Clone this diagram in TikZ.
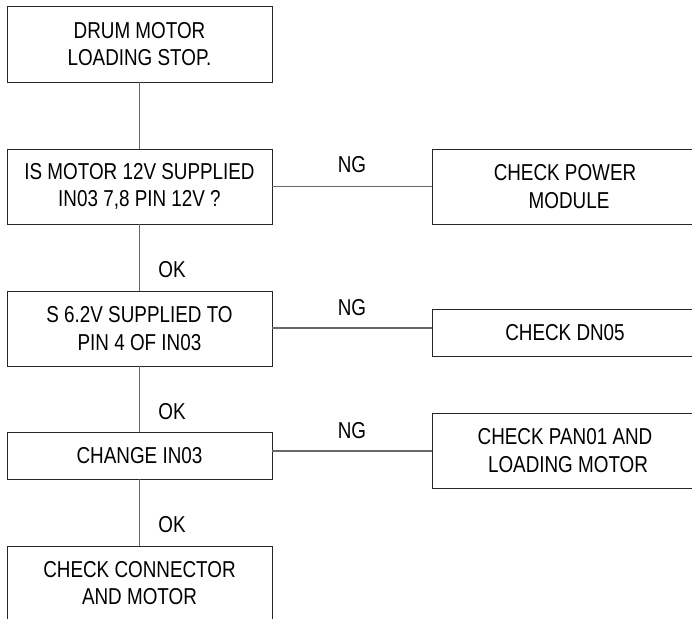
\documentclass[tikz,border=0pt]{standalone}
\usepackage{fontspec}
\setmainfont{Liberation Sans}[FakeStretch=0.82]
\begin{document}
\begin{tikzpicture}[x=1pt,y=-1pt,
  box/.style={draw=black!85,line width=0.9pt,minimum width=265pt,inner sep=0pt,align=center,
    font=\fontsize{23}{27.5}\selectfont},
  lbl/.style={inner sep=0pt,font=\fontsize{23}{27}\selectfont},
  conn/.style={draw={rgb,255:red,105;green,105;blue,105},line width=1.3pt}]
\useasboundingbox (0,0) rectangle (692,618);
\node[box,minimum height=76pt] (b1) at (139.5,44) {DRUM MOTOR\\LOADING STOP.};
\node[box,minimum height=75pt] (b2) at (139.5,186.5) {IS MOTOR 12V SUPPLIED\\IN03 7,8 PIN 12V ?};
\node[box,minimum height=75pt] (b3) at (139.5,328.5) {S 6.2V SUPPLIED TO\\PIN 4 OF IN03};
\node[box,minimum height=47pt] (b4) at (139.5,455.5) {CHANGE IN03};
\node[box,minimum height=74pt] (b5) at (139.5,583) {CHECK CONNECTOR\\AND MOTOR};
\node[box,minimum height=75pt] (r1) at (565,186.5) {CHECK POWER\\\hspace{8pt}MODULE};
\node[box,minimum height=47pt] (r2) at (565,332.5) {CHECK DN05};
\node[box,minimum height=75pt] (r3) at (565,450.5) {CHECK PAN01 AND\\\hspace{6pt}LOADING MOTOR};
\draw[conn] (b1.south) -- (b2.north);
\draw[conn] (b2.south) -- (b3.north);
\draw[conn] (b3.south) -- (b4.north);
\draw[conn] (b4.south) -- (b5.north);
\draw[conn] (b2.east) -- (r1.west);
\coordinate (c3) at (272,328);
\coordinate (c4) at (272,451);
\draw[conn] (c3 -| b3.east) -- (c3 -| r2.west);
\draw[conn] (c4 -| b4.east) -- (c4 -| r3.west);
\node[lbl] (ng1) at (352,165) {NG};
\node[lbl] (ng2) at (352,308) {NG};
\node[lbl] (ng3) at (352,431) {NG};
\node[lbl] (ok1) at (172,270) {OK};
\node[lbl] (ok2) at (172,412) {OK};
\node[lbl] (ok3) at (172,525) {OK};
\end{tikzpicture}
\end{document}
